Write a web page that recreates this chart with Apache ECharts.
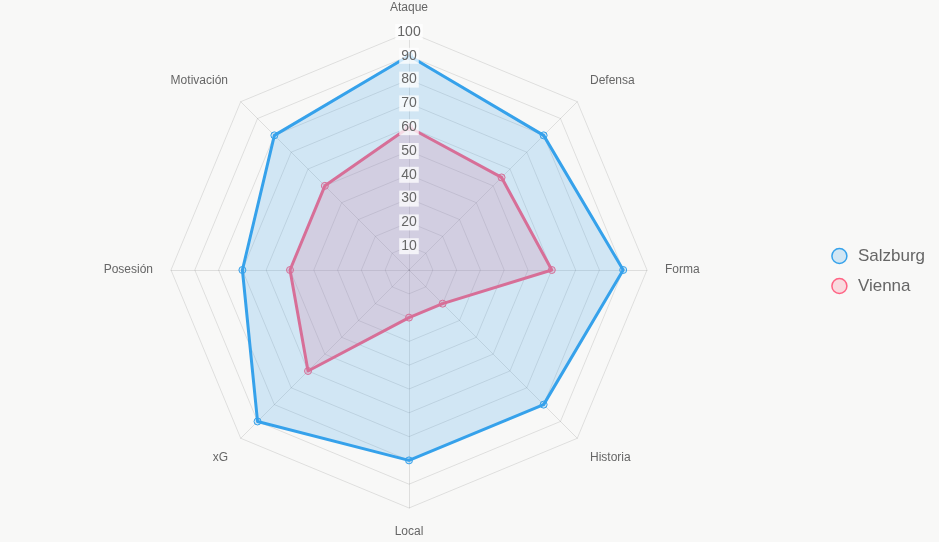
<!DOCTYPE html>
<html>
<head>
<meta charset="utf-8">
<script src="https://cdn.jsdelivr.net/npm/echarts@6/dist/echarts.min.js"></script>
<style>
  html, body { margin: 0; padding: 0; background: #f8f8f7; }
  #main { width: 939px; height: 542px; }
</style>
</head>
<body>
<div id="main"></div>
<script>
// indicators in clockwise order starting at the top
var categories = ['Ataque', 'Defensa', 'Forma', 'Historia', 'Local', 'xG', 'Posesión', 'Motivación'];
var salzburg = [90, 80, 90, 80, 80, 90, 70, 80];
var vienna = [60, 55, 60, 20, 20, 60, 50, 50];
var tickMax = 100;
var tickStep = 10;

(function () {
  var chart = echarts.init(document.getElementById('main'));

  // echarts places radar indicators counter-clockwise, so flip the order
  function cw(arr) {
    return [arr[0]].concat(arr.slice(1).reverse());
  }

  var blue = 'rgb(54,162,235)';
  var blueFill = 'rgba(54,162,235,0.2)';
  var red = 'rgb(255,99,132)';
  var redFill = 'rgba(255,99,132,0.2)';
  var center = [409, 270];
  var radius = 238;

  // push the diagonal labels away from the grid like chart.js does
  var upper = ['Defensa', 'Motivación'];
  var lower = ['Historia', 'xG'];

  var option = {
    backgroundColor: '#f8f8f7',
    textStyle: { fontFamily: 'Liberation Sans, Arial, sans-serif' },
    legend: {
      orient: 'vertical',
      right: 9,
      top: 'middle',
      icon: 'circle',
      itemWidth: 15,
      itemHeight: 15,
      itemGap: 13,
      textStyle: { fontSize: 17, color: '#666', padding: [0, 0, 0, 6] },
      data: [
        { name: 'Salzburg', itemStyle: { color: blueFill, borderColor: blue, borderWidth: 1.5 } },
        { name: 'Vienna', itemStyle: { color: redFill, borderColor: red, borderWidth: 1.5 } }
      ]
    },
    radar: {
      center: center,
      radius: radius,
      startAngle: 90,
      splitNumber: tickMax / tickStep,
      indicator: cw(categories).map(function (n) { return { name: n, max: tickMax, min: 0 }; }),
      axisName: {
        color: '#666',
        fontSize: 12,
        formatter: function (name) {
          if (upper.indexOf(name) >= 0) return '{up|' + name + '}';
          if (lower.indexOf(name) >= 0) return '{dn|' + name + '}';
          return name;
        },
        rich: {
          up: { color: '#666', fontSize: 12, padding: [0, 0, 16, 0] },
          dn: { color: '#666', fontSize: 12, padding: [13, 0, 0, 0] }
        }
      },
      nameGap: 18,
      splitLine: { lineStyle: { color: 'rgba(0,0,0,0.1)', width: 1 } },
      axisLine: { lineStyle: { color: 'rgba(0,0,0,0.1)', width: 1 } },
      splitArea: { show: false }
    },
    // polar axis only used to print the tick labels up the top spoke
    polar: { center: center, radius: radius },
    angleAxis: { show: false, startAngle: 90, min: 0, max: 360 },
    radiusAxis: {
      min: 0,
      max: tickMax,
      interval: tickStep,
      z: 10,
      axisLine: { show: false },
      axisTick: { show: false },
      splitLine: { show: false },
      axisLabel: {
        showMinLabel: false,
        margin: 0,
        align: 'center',
        verticalAlign: 'middle',
        fontSize: 14,
        color: '#666',
        backgroundColor: 'rgba(255,255,255,0.75)',
        padding: [1, 2]
      }
    },
    series: [
      {
        name: 'Vienna',
        type: 'radar',
        z: 2,
        symbol: 'circle',
        symbolSize: 7,
        lineStyle: { color: red, width: 3 },
        itemStyle: { color: redFill, borderColor: red, borderWidth: 1 },
        areaStyle: { color: redFill, opacity: 1 },
        data: [{ name: 'Vienna', value: cw(vienna) }]
      },
      {
        name: 'Salzburg',
        type: 'radar',
        z: 3,
        symbol: 'circle',
        symbolSize: 7,
        lineStyle: { color: blue, width: 3 },
        itemStyle: { color: blueFill, borderColor: blue, borderWidth: 1 },
        areaStyle: { color: blueFill, opacity: 1 },
        data: [{ name: 'Salzburg', value: cw(salzburg) }]
      }
    ]
  };

  chart.setOption(option);
})();
</script>
</body>
</html>
